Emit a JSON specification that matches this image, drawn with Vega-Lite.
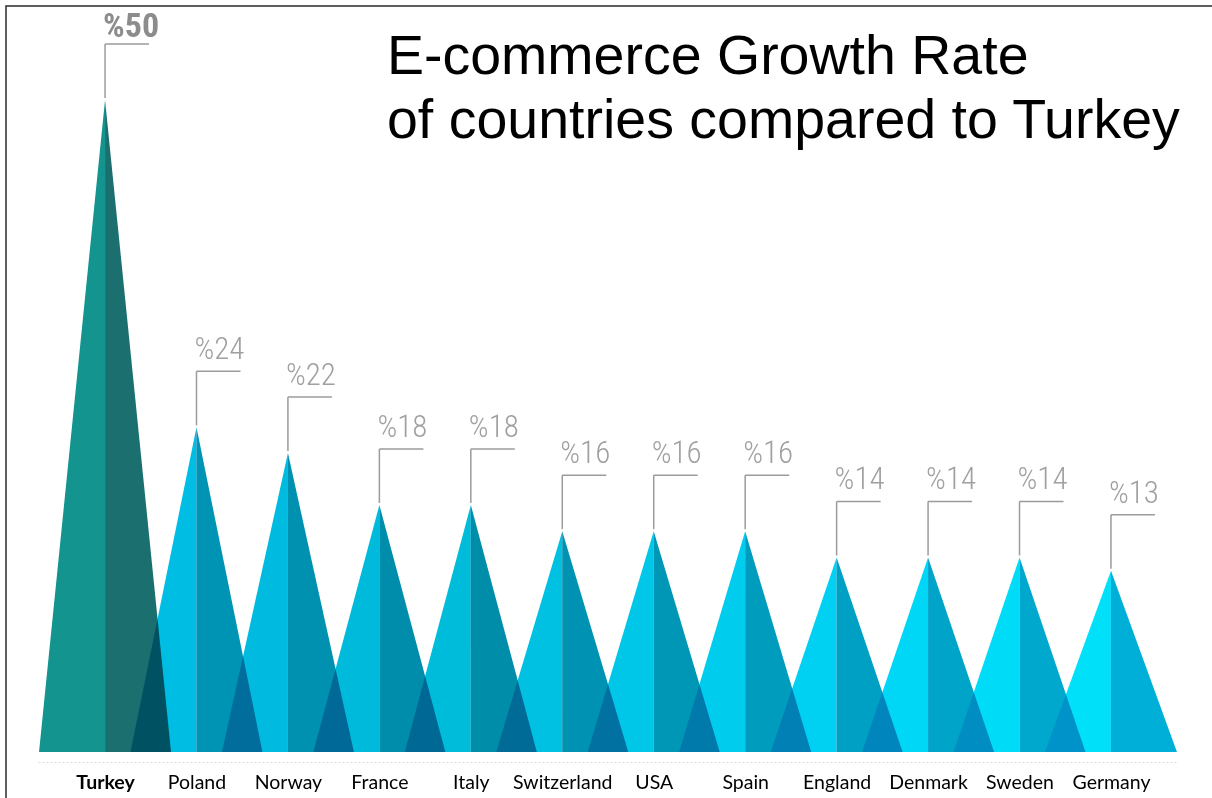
{
  "$schema": "https://vega.github.io/schema/vega-lite/v6.json",
  "width": 1212,
  "height": 800,
  "autosize": {"type": "none"},
  "padding": {"left": 6, "top": 6, "right": 0, "bottom": 0},
  "background": "white",
  "config": {
    "view": {"stroke": "#2a2a2a", "strokeWidth": 1.5}
  },
  "title": {
    "text": ["E-commerce Growth Rate", "of countries compared to Turkey"],
    "anchor": "start",
    "frame": "group",
    "dx": 381,
    "offset": -143,
    "font": "Liberation Sans",
    "fontSize": 55.5,
    "fontWeight": "normal",
    "color": "#000000",
    "lineHeight": 64,
    "baseline": "top"
  },
  "data": {
    "values": [
      {"country": "Turkey", "value": 50, "label": "%50"},
      {"country": "Poland", "value": 24, "label": "%24"},
      {"country": "Norway", "value": 22, "label": "%22"},
      {"country": "France", "value": 18, "label": "%18"},
      {"country": "Italy", "value": 18, "label": "%18"},
      {"country": "Switzerland", "value": 16, "label": "%16"},
      {"country": "USA", "value": 16, "label": "%16"},
      {"country": "Spain", "value": 16, "label": "%16"},
      {"country": "England", "value": 14, "label": "%14"},
      {"country": "Denmark", "value": 14, "label": "%14"},
      {"country": "Sweden", "value": 14, "label": "%14"},
      {"country": "Germany", "value": 13, "label": "%13"}
    ]
  },
  "encoding": {
    "x": {
      "field": "country",
      "type": "nominal",
      "scale": {
        "type": "point",
        "domain": ["Turkey", "Poland", "Norway", "France", "Italy", "Switzerland", "USA", "Spain", "England", "Denmark", "Sweden", "Germany"],
        "range": [32, 1172],
        "padding": 0.733
      },
      "axis": {
        "title": null,
        "orient": "bottom",
        "offset": -44,
        "labelAngle": 0,
        "ticks": false,
        "grid": false,
        "domainColor": "#dcdcdc",
        "domainDash": [2, 2],
        "domainWidth": 1,
        "labelFont": "Lato",
        "labelFontSize": 19.5,
        "labelColor": "#000000",
        "labelPadding": 11,
        "labelFontWeight": {"condition": {"test": "datum.value === 'Turkey'", "value": "bold"}, "value": "normal"}
      }
    }
  },
  "layer": [
    {
      "transform": [
        {"fold": ["value"], "as": ["part", "h"]},
        {"impute": "h", "key": "part", "keyvals": ["baseL", "value", "baseR"], "groupby": ["country"], "value": 0},
        {"filter": "datum.part != 'baseR'"}
      ],
      "mark": {"type": "area", "blend": "multiply", "xOffset": {"expr": "datum.part === 'baseL' ? -66 : 0"}},
      "encoding": {
        "y": {"field": "h", "type": "quantitative", "stack": null, "scale": {"type": "pow", "exponent": 0.95, "domain": [0, 50], "range": [746, 94]}, "axis": null},
        "color": {
          "field": "country",
          "type": "nominal",
          "scale": {
            "domain": ["Turkey", "Poland", "Norway", "France", "Italy", "Switzerland", "USA", "Spain", "England", "Denmark", "Sweden", "Germany"],
            "range": ["#13948e", "#00bde3", "#00bbdf", "#00badb", "#00bcdb", "#00c1e2", "#00c6e7", "#00ccee", "#00d1f2", "#00d6f5", "#00dbf7", "#00e0f9"]
          },
          "legend": null
        }
      }
    },
    {
      "transform": [
        {"fold": ["value"], "as": ["part", "h"]},
        {"impute": "h", "key": "part", "keyvals": ["baseL", "value", "baseR"], "groupby": ["country"], "value": 0},
        {"filter": "datum.part != 'baseL'"}
      ],
      "mark": {"type": "area", "blend": "multiply", "xOffset": {"expr": "datum.part === 'baseR' ? 66 : 0"}},
      "encoding": {
        "y": {"field": "h", "type": "quantitative", "stack": null},
        "color": {
          "field": "country",
          "type": "nominal",
          "scale": {
            "domain": ["Turkey", "Poland", "Norway", "France", "Italy", "Switzerland", "USA", "Spain", "England", "Denmark", "Sweden", "Germany"],
            "range": ["#1b6f6f", "#0094b4", "#0090b0", "#008dac", "#008daa", "#0092b2", "#0097b7", "#009cbe", "#00a0c4", "#00a4c9", "#00a8ce", "#00afd7"]
          },
          "legend": null
        }
      }
    },
    {
      "mark": {"type": "rule", "yOffset": -2, "y2Offset": -56, "color": "#9b9b9b", "strokeWidth": 1.5},
      "encoding": {
        "y": {"field": "value", "type": "quantitative"},
        "y2": {"field": "value"}
      }
    },
    {
      "mark": {"type": "rule", "yOffset": -56, "x2Offset": 44, "color": "#9b9b9b", "strokeWidth": 1.5},
      "encoding": {
        "x2": {"field": "country"},
        "y": {"field": "value", "type": "quantitative"}
      }
    },
    {
      "transform": [{"filter": "datum.country != 'Turkey'"}],
      "mark": {"type": "text", "align": "left", "baseline": "alphabetic", "dx": -2, "dy": -68, "font": "'Roboto Condensed', 'DejaVu Sans Condensed', Roboto", "fontSize": 31, "fontWeight": 300, "color": "#a0a0a0"},
      "encoding": {
        "y": {"field": "value", "type": "quantitative"},
        "text": {"field": "label"}
      }
    },
    {
      "transform": [{"filter": "datum.country == 'Turkey'"}],
      "mark": {"type": "text", "align": "left", "baseline": "alphabetic", "dx": -2, "dy": -63, "font": "'Roboto Condensed', 'DejaVu Sans Condensed', Roboto", "fontSize": 34, "fontWeight": "bold", "color": "#8c8c8c"},
      "encoding": {
        "y": {"field": "value", "type": "quantitative"},
        "text": {"field": "label"}
      }
    }
  ],
  "resolve": {"scale": {"color": "independent"}}
}
